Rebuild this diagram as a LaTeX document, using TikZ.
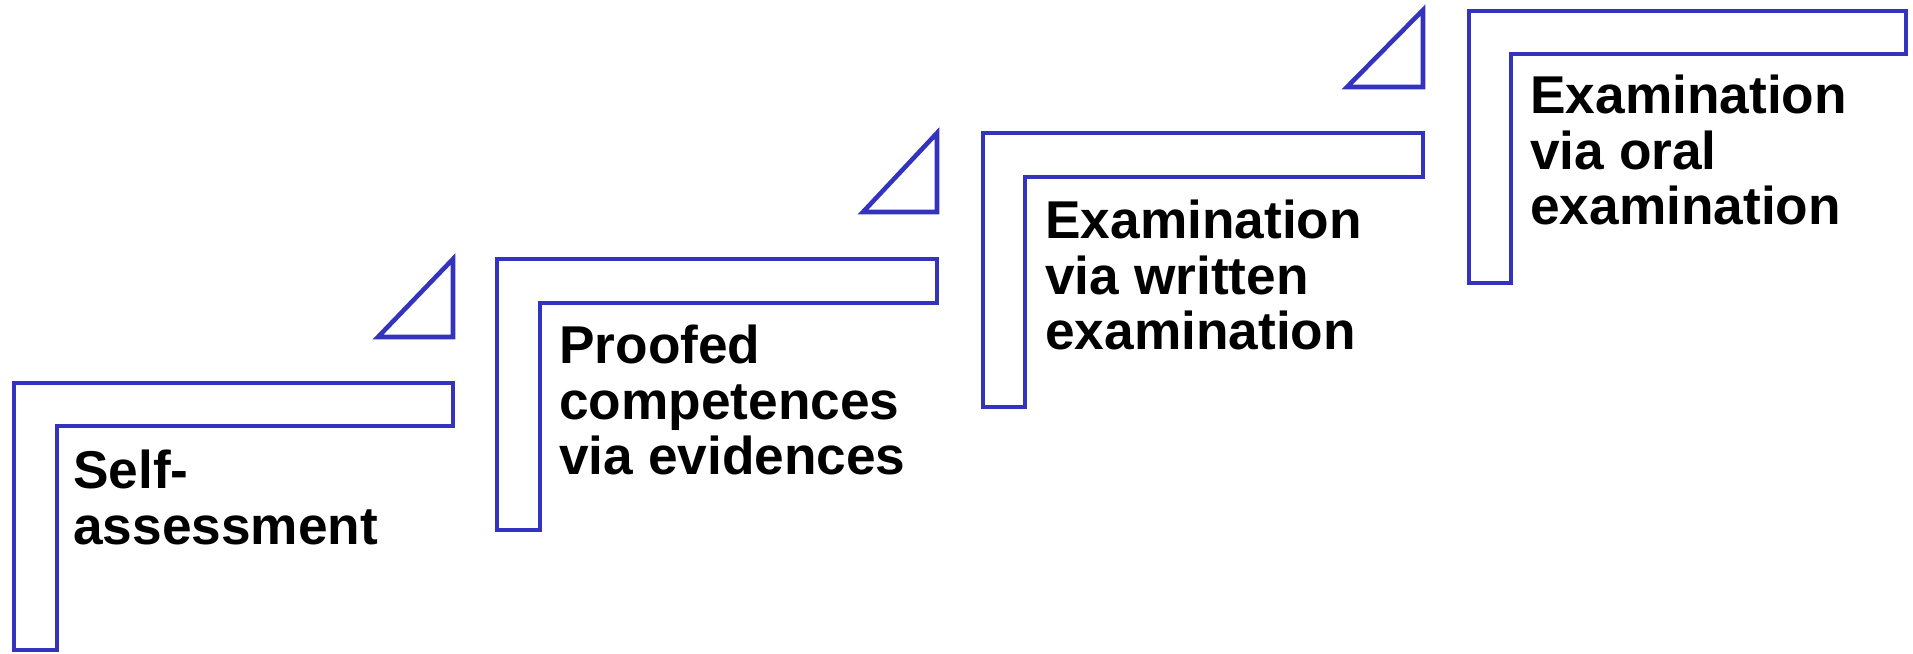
\documentclass[tikz,border=0pt]{standalone}
\usepackage{fontspec}
\setmainfont{Liberation Sans}
\definecolor{stepblue}{RGB}{51,51,190}
\begin{document}
\begin{tikzpicture}[x=0.02cm, y=-0.02cm,
    stepline/.style={draw=stepblue, line width=2.6pt},
    steptext/.style={anchor=north west, inner sep=0pt, align=left,
      font=\fontsize{30.3pt}{31.6pt}\selectfont\bfseries}]
  \useasboundingbox (0,0) rectangle (1913,653);

  \draw[stepline] (14,383) -- (453,383) -- (453,426) -- (57,426) -- (57,650) -- (14,650) -- cycle;
  \draw[stepline] (497,259) -- (937,259) -- (937,303) -- (540,303) -- (540,530) -- (497,530) -- cycle;
  \draw[stepline] (983,133) -- (1423,133) -- (1423,177) -- (1025,177) -- (1025,407) -- (983,407) -- cycle;
  \draw[stepline] (1469,11) -- (1906,11) -- (1906,54) -- (1511,54) -- (1511,283) -- (1469,283) -- cycle;

  \draw[stepline] (453,259) -- (453,337) -- (378,337) -- cycle;
  \draw[stepline] (937,133) -- (937,212) -- (863,212) -- cycle;
  \draw[stepline] (1423,10) -- (1423,87) -- (1347,87) -- cycle;

  \node[steptext] (self) at (73,450) {Self-\\assessment};
  \node[steptext] (proofed) at (559,325) {Proofed\\competences\\via evidences};
  \node[steptext] (written) at (1045,200) {Examination\\via written\\examination};
  \node[steptext] (oral) at (1530,75) {Examination\\via oral\\examination};
\end{tikzpicture}
\end{document}
